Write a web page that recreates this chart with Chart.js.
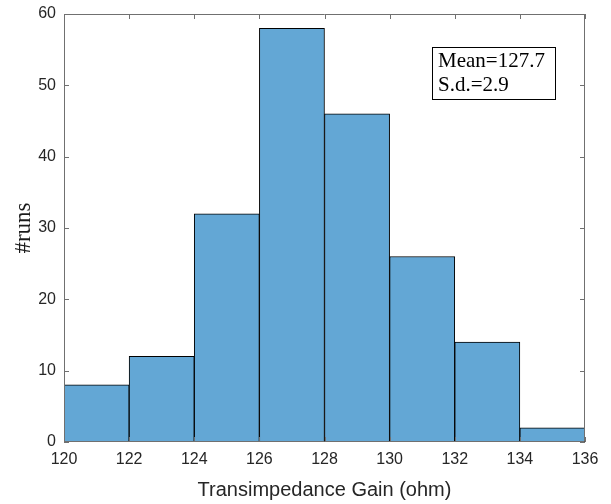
<!DOCTYPE html>
<html>
<head>
<meta charset="utf-8">
<script src="https://cdn.jsdelivr.net/npm/chart.js@4.4.0/dist/chart.umd.min.js"></script>
<style>
html,body{margin:0;padding:0;background:#fff;}
#wrap{width:611px;height:504px;position:relative;}
</style>
</head>
<body>
<div id="wrap"><canvas id="c" width="611" height="504"></canvas></div>
<script>
// Data
const binCenters = [121, 123, 125, 127, 129, 131, 133, 135];
const counts = [8, 12, 32, 58, 46, 26, 14, 2];
const xRange = [120, 136];
const xStep = 2;
const yRange = [0, 60];
const yStep = 10;
const statsLines = ['Mean=127.7', 'S.d.=2.9'];
const xTitle = 'Transimpedance Gain (ohm)';
const yTitle = '#runs';

const axisColor = '#707070';
const tickLen = 5;

const framePlugin = {
  id: 'frame',
  afterDraw(chart) {
    const {ctx, chartArea: a, scales: {x, y}} = chart;
    ctx.save();
    ctx.strokeStyle = axisColor;
    ctx.lineWidth = 1;
    ctx.beginPath();
    ctx.rect(a.left + 0.5, a.top + 0.5, a.right - a.left - 1, a.bottom - a.top - 1);
    ctx.stroke();
    ctx.beginPath();
    x.ticks.forEach(t => {
      const px = Math.round(x.getPixelForValue(t.value)) + 0.5;
      ctx.moveTo(px, a.bottom); ctx.lineTo(px, a.bottom - tickLen);
      ctx.moveTo(px, a.top); ctx.lineTo(px, a.top + tickLen);
    });
    y.ticks.forEach(t => {
      const py = Math.round(y.getPixelForValue(t.value)) + 0.5;
      ctx.moveTo(a.left, py); ctx.lineTo(a.left + tickLen, py);
      ctx.moveTo(a.right, py); ctx.lineTo(a.right - tickLen, py);
    });
    ctx.stroke();
    // stats box
    const bx = 432, by = 47, bw = 123, bh = 52;
    ctx.fillStyle = '#fff';
    ctx.fillRect(bx, by, bw, bh);
    ctx.strokeStyle = '#000';
    ctx.strokeRect(bx + 0.5, by + 0.5, bw, bh);
    ctx.fillStyle = '#000';
    ctx.font = '21px "Liberation Serif", "Times New Roman", serif';
    ctx.textBaseline = 'middle';
    ctx.textAlign = 'left';
    statsLines.forEach((s, i) => ctx.fillText(s, bx + 6, by + 14 + i * 24));
    ctx.restore();
  }
};

new Chart(document.getElementById('c'), {
  type: 'bar',
  data: {
    datasets: [{
      data: binCenters.map((c, i) => ({x: c, y: counts[i]})),
      backgroundColor: 'rgb(99,167,213)',
      borderColor: '#000',
      borderWidth: 1,
      borderSkipped: false,
      barPercentage: 1,
      categoryPercentage: 1
    }]
  },
  options: {
    responsive: false,
    animation: false,
    layout: {padding: {left: 0, right: 26, top: 14, bottom: 0}},
    plugins: {legend: {display: false}, tooltip: {enabled: false}},
    scales: {
      x: {
        type: 'linear',
        min: xRange[0], max: xRange[1],
        offset: false,
        grid: {display: false, drawTicks: false},
        border: {display: false},
        ticks: {stepSize: xStep, color: '#262626', padding: 8, maxRotation: 0,
                font: {family: 'Liberation Sans, Arial, sans-serif', size: 16}},
        title: {display: true, text: xTitle, color: '#262626', padding: {top: 0, bottom: 2},
                font: {family: 'Liberation Sans, Arial, sans-serif', size: 20}},
        afterFit(s) { s.height = 62; s.paddingLeft = 0; s.paddingRight = 0; }
      },
      y: {
        min: yRange[0], max: yRange[1],
        grid: {display: false, drawTicks: false},
        border: {display: false},
        ticks: {stepSize: yStep, color: '#262626', padding: 8,
                font: {family: 'Liberation Sans, Arial, sans-serif', size: 16}},
        title: {display: true, text: yTitle, color: '#1a1a1a', padding: {top: 10, bottom: 0},
                font: {family: 'Liberation Serif, Times New Roman, serif', size: 23}},
        afterFit(s) { s.width = 64; s.paddingTop = 0; s.paddingBottom = 0; }
      }
    }
  },
  plugins: [framePlugin]
});
</script>
</body>
</html>
